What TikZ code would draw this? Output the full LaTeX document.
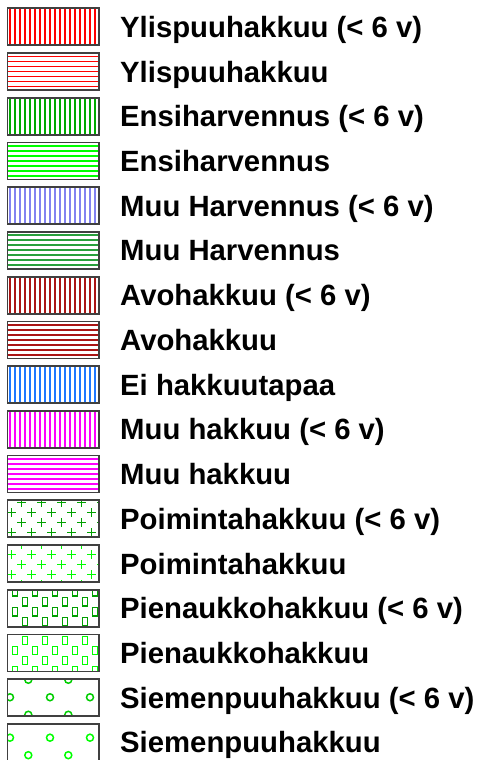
\documentclass[tikz,border=0pt]{standalone}
\usepackage{fontspec}
\setmainfont{Liberation Sans}
\usepackage{tikz}
\usetikzlibrary{positioning}
\definecolor{ylred}{RGB}{255,0,0}
\definecolor{ehgreen}{RGB}{0,170,0}
\definecolor{litegreen}{RGB}{0,255,0}
\definecolor{mhblue}{RGB}{130,130,240}
\definecolor{mhgreen}{RGB}{40,160,60}
\definecolor{avred}{RGB}{170,20,20}
\definecolor{eiblue}{RGB}{30,120,255}
\definecolor{mumag}{RGB}{255,0,255}
\definecolor{pmgreen}{RGB}{0,160,0}
\definecolor{smgreen}{RGB}{0,205,0}
% hatch fills, #1 colour, #2 top of swatch, #3 line width / phase, #4 phase
\newcommand{\swdov}[4]{\foreach \k in {0,...,18}
  {\draw[#1,line width=#3pt] (10+5*\k,#2) -- ++(0,37);}}
\newcommand{\swdoh}[4]{\foreach \k in {0,...,7}
  {\draw[#1,line width=#3pt] (7.5,#2+3.5+5*\k) -- ++(91.5,0);}}
\newcommand{\swmkcross}[2]{\draw (#1-4.5,#2) -- (#1+4.5,#2) (#1,#2-4.5) -- (#1,#2+4.5);}
\newcommand{\swmkbox}[2]{\draw[line width=1.1pt] (#1-2.6,#2-4.2) rectangle (#1+2.6,#2+4.2);}
\newcommand{\swmkring}[2]{\draw (#1,#2) circle (3.5);}
% #1 mark, #2 colour, #3 top, #4 y0, #5 dy, #6 x even, #7 x odd, #8 dx
\newcommand{\swgrid}[8]{\begin{scope}[draw=#2,line width=1.5pt]
  \foreach \m in {-1,...,5}{
    \pgfmathsetmacro\yy{#3+#4+#5*\m}
    \pgfmathsetmacro\xs{7.5+ifthenelse(mod(\m+2,2)==0,#6,#7)}
    \foreach \j in {-1,...,6}{
      \pgfmathsetmacro\xx{\xs+#8*\j}
      \csname swmk#1\endcsname{\xx}{\yy}
    }
  }\end{scope}}
\newcommand{\swdoc}[4]{\swgrid{cross}{#1}{#2}{#3}{10}{#4}{#4+10}{20}}
\newcommand{\swdob}[4]{\swgrid{box}{#1}{#2}{#3}{10}{#4}{#4+10}{20}}
\newcommand{\swdor}[4]{\swgrid{ring}{#1}{#2}{#3}{17.5}{#4}{#4-18.3}{40}}
\tikzset{
  x=1pt, y=-1pt,
  swatch/.style={draw=black!75,line width=1.7pt,minimum width=91.5pt,
    minimum height=37pt,inner sep=0pt,outer sep=0pt,anchor=north west},
  legtxt/.style={font=\fontsize{29.3}{32}\selectfont\bfseries,
    anchor=base west,inner sep=0pt},
}
\begin{document}
\begin{tikzpicture}
  \useasboundingbox (0,0) rectangle (481,760);
  \foreach \i/\kind/\col/\pa/\pb/\txt in {
      1/v/ylred/1.4/0/{Ylispuuhakkuu (< 6 v)},
      2/h/ylred/1.4/0/{Ylispuuhakkuu},
      3/v/ehgreen/1.4/0/{Ensiharvennus (< 6 v)},
      4/h/litegreen/1.6/0/{Ensiharvennus},
      5/v/mhblue/1.4/0/{Muu Harvennus (< 6 v)},
      6/h/mhgreen/2/0/{Muu Harvennus},
      7/v/avred/1.4/0/{Avohakkuu (< 6 v)},
      8/h/avred/1.4/0/{Avohakkuu},
      9/v/eiblue/1.9/0/{Ei hakkuutapaa},
      10/v/mumag/1.6/0/{Muu hakkuu (< 6 v)},
      11/h/mumag/1.6/0/{Muu hakkuu},
      12/c/pmgreen/2.3/14.2/{Poimintahakkuu (< 6 v)},
      13/c/litegreen/-0.5/14.2/{Poimintahakkuu},
      14/b/pmgreen/2/7.5/{Pienaukkohakkuu (< 6 v)},
      15/b/litegreen/6/17.5/{Pienaukkohakkuu},
      16/r/smgreen/0.5/20.8/{Siemenpuuhakkuu (< 6 v)},
      17/r/litegreen/-3.8/20.8/{Siemenpuuhakkuu}} {
    \pgfmathsetmacro\ytop{8.3+(\i-1)*44.73}
    \begin{scope}
      \clip (7.5,\ytop) rectangle ++(91.5,37);
      \csname swdo\kind\endcsname{\col}{\ytop}{\pa}{\pb}
    \end{scope}
    \node[swatch] (sw\i) at (7.5,\ytop) {};
    \node[legtxt] (lbl\i) at (120,\ytop+29) {\txt};
  }
\end{tikzpicture}
\end{document}
